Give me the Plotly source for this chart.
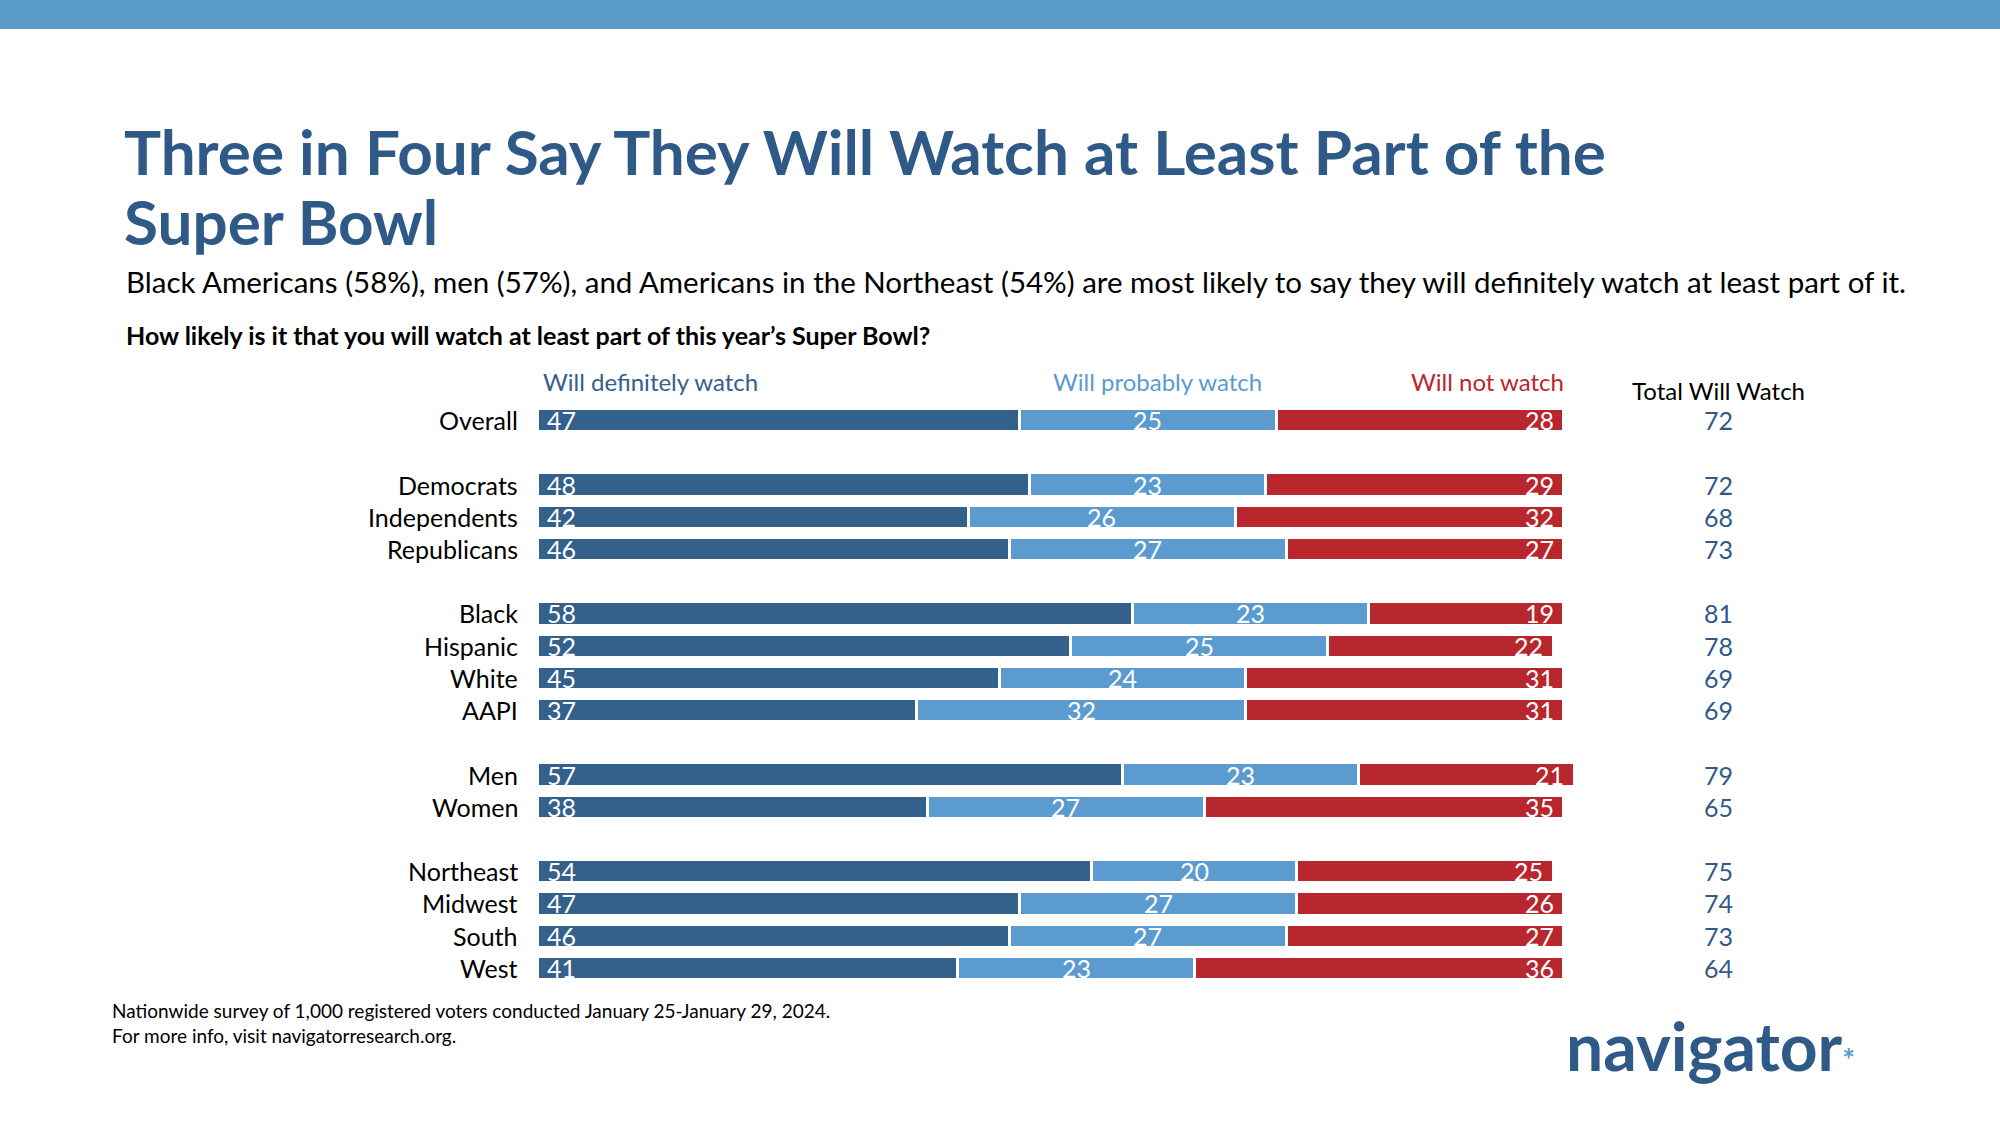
import plotly.graph_objects as go

groups = ["Overall", "Democrats", "Independents", "Republicans", "Black", "Hispanic", "White", "AAPI",
          "Men", "Women", "Northeast", "Midwest", "South", "West"]
rows = [0, 2, 3, 4, 6, 7, 8, 9, 11, 12, 14, 15, 16, 17]
definitely = [47, 48, 42, 46, 58, 52, 45, 37, 57, 38, 54, 47, 46, 41]
probably = [25, 23, 26, 27, 23, 25, 24, 32, 23, 27, 20, 27, 27, 23]
not_watch = [28, 29, 32, 27, 19, 22, 31, 31, 21, 35, 25, 26, 27, 36]
total = [72, 72, 68, 73, 81, 78, 69, 69, 79, 65, 75, 74, 73, 64]

W, H = 2000, 1125
L, R, T, B = 537, 1574, 404, 984
DARK, LIGHT, RED, NAVY = "#34608C", "#5B9BD0", "#B8262E", "#2F5A88"
FONT = "Lato"

def px(x): return (x - L) / (R - L)
def py(y): return (B - y) / (B - T)

fig = go.Figure()
ann = []
for vals, col in [(definitely, DARK), (probably, LIGHT), (not_watch, RED)]:
    fig.add_trace(go.Bar(x=vals, y=rows, orientation="h", marker=dict(color=col, line=dict(color="white", width=3)),
                         width=0.72, hoverinfo="skip"))
for i, r in enumerate(rows):
    d, p, n = definitely[i], probably[i], not_watch[i]
    end = d + p + n
    ann.append(dict(x=0.8, y=r, xref="x", yref="y", text=str(d), xanchor="left", showarrow=False,
                    font=dict(size=25, color="white", family=FONT)))
    ann.append(dict(x=d + p / 2, y=r, xref="x", yref="y", text=str(p), xanchor="center", showarrow=False,
                    font=dict(size=25, color="white", family=FONT)))
    ann.append(dict(x=end - 0.8, y=r, xref="x", yref="y", text=str(n), xanchor="right", showarrow=False,
                    font=dict(size=25, color="white", family=FONT)))

for g, r, t in zip(groups, rows, total):
    ann.append(dict(x=px(520), xref="paper", y=r, yref="y", text=g, showarrow=False, xanchor="right",
                    font=dict(size=25, color="black", family=FONT)))
    ann.append(dict(x=px(1718), xref="paper", y=r, yref="y", text=str(t), showarrow=False, xanchor="center",
                    font=dict(size=25, color=NAVY, family=FONT)))

def a(x, y, text, size, color, xanchor="left", bold=False, yanchor="middle"):
    ann.append(dict(x=px(x), y=py(y), xref="paper", yref="paper", text=f"<b>{text}</b>" if bold else text,
                    showarrow=False, xanchor=xanchor, yanchor=yanchor, align="left",
                    font=dict(size=size, color=color, family=FONT)))

a(541, 381, "Will definitely watch", 24, DARK)
a(1157, 381, "Will probably watch", 24, LIGHT, "center")
a(1566, 381, "Will not watch", 24, RED, "right")
a(1718, 390, "Total Will Watch", 24, "black", "center")
ann.append(dict(x=px(122), y=py(112), xref="paper", yref="paper", xanchor="left", yanchor="top", align="left",
                showarrow=False, text="<b>Three in Four Say They Will Watch at Least Part of the</b>",
                font=dict(size=62, color=NAVY, family=FONT)))
ann.append(dict(x=px(122), y=py(182), xref="paper", yref="paper", xanchor="left", yanchor="top", align="left",
                showarrow=False, text="<b>Super Bowl</b>", font=dict(size=62, color=NAVY, family=FONT)))
a(124, 281, "Black Americans (58%), men (57%), and Americans in the Northeast (54%) are most likely to say they will definitely watch at least part of it.", 29.5, "black")
a(124, 335, "How likely is it that you will watch at least part of this year’s Super Bowl?", 25, "black", bold=True)
a(110, 1023, "Nationwide survey of 1,000 registered voters conducted January 25-January 29, 2024.<br>For more info, visit navigatorresearch.org.", 19, "black")
a(1710, 1045, "navigator<span style='color:#5B9BD0;font-size:30px'>*</span>", 66, NAVY, "center", bold=True)

fig.update_layout(
    barmode="stack", width=W, height=H, showlegend=False,
    margin=dict(l=L, r=W - R, t=T, b=H - B),
    plot_bgcolor="white", paper_bgcolor="white",
    xaxis=dict(range=[0, 101], visible=False),
    yaxis=dict(range=[17.5, -0.5], visible=False),
    annotations=ann,
    shapes=[dict(type="rect", xref="paper", yref="paper", x0=px(0), x1=px(W), y0=py(0), y1=py(29),
                 fillcolor="#5B9BC9", line=dict(width=0))],
    font=dict(family=FONT),
)
fig.write_html("out.html", post_script="document.body.style.margin='0';", config={"displayModeBar": False})
